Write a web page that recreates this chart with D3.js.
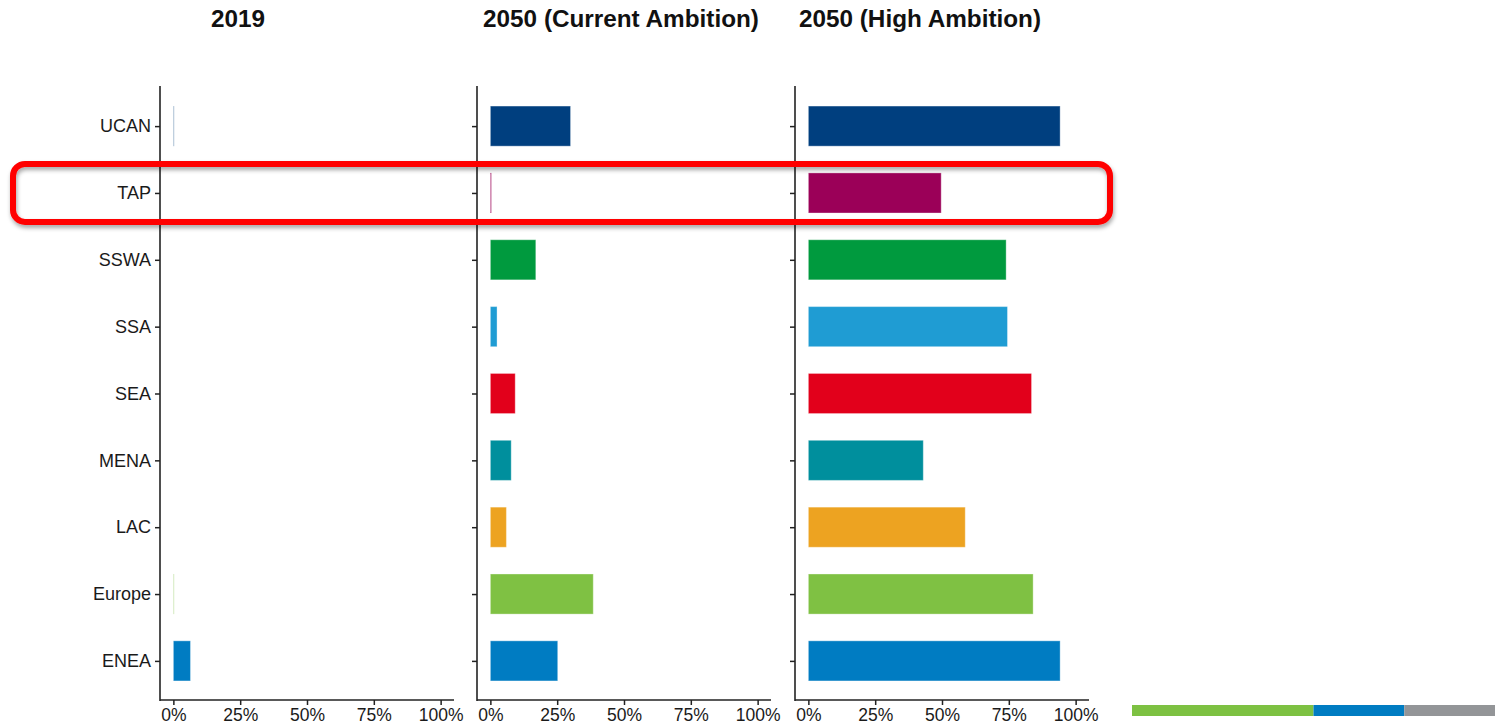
<!DOCTYPE html>
<html>
<head>
<meta charset="utf-8">
<script src="https://cdn.jsdelivr.net/npm/d3@7"></script>
<style>
  body { margin: 0; background: #fff; }
  svg { display: block; }
  .tick text { font-family: "Liberation Sans", Arial, sans-serif; }
</style>
</head>
<body>
<div id="chart"></div>
<script>
// regions, top to bottom
var regions = ["UCAN", "TAP", "SSWA", "SSA", "SEA", "MENA", "LAC", "Europe", "ENEA"];
var regionColors = ["#003f7f", "#9b0058", "#009a3e", "#1f9cd3", "#e2001b", "#008f9d", "#eda321", "#7fc143", "#007cc2"];

var panelTitles = ["2019", "2050 (Current Ambition)", "2050 (High Ambition)"];
var share2019 = [0.002, 0, 0, 0, 0, 0, 0, 0.001, 0.064];
var shareCurrent = [0.30, 0.004, 0.17, 0.025, 0.093, 0.078, 0.06, 0.385, 0.252];
var shareHigh = [0.942, 0.497, 0.74, 0.745, 0.835, 0.43, 0.587, 0.841, 0.942];
var panelValues = [share2019, shareCurrent, shareHigh];
var xTicks = [0, 0.25, 0.5, 0.75, 1];

// strip at the bottom right
var stripColors = ["#7dc142", "#007cc2", "#939598"];
var stripShares = [2, 1, 1];

var svgWidth = 1502, svgHeight = 727;
var plotTop = 85, plotBottom = 700;
var panelLeft = [160, 477, 795];
var titleCenter = [238, 621, 920];
var panelWidth = 294;

var svg = d3.select("#chart").append("svg")
    .attr("width", svgWidth)
    .attr("height", svgHeight);

var defs = svg.append("defs");
var shadow = defs.append("filter").attr("id", "shadow")
    .attr("x", "-5%").attr("y", "-30%").attr("width", "110%").attr("height", "160%");
shadow.append("feDropShadow")
    .attr("dx", 1).attr("dy", 3).attr("stdDeviation", 2)
    .attr("flood-color", "#000").attr("flood-opacity", 0.35);

// shared y scale (ggplot style: 0.6 expansion on discrete axis)
var y = d3.scalePoint()
    .domain(regions)
    .range([plotTop, plotBottom])
    .padding(0.6);
var barH = y.step() * 0.6;

panelValues.forEach(function (values, p) {
    var x0 = panelLeft[p];
    var x = d3.scaleLinear()
        .domain([-0.05, 1.05])
        .range([x0, x0 + panelWidth]);

    var g = svg.append("g");

    // title
    svg.append("text")
        .attr("x", titleCenter[p])
        .attr("y", 27)
        .attr("text-anchor", "middle")
        .attr("font-family", "Liberation Sans, Arial, sans-serif")
        .attr("font-weight", "bold")
        .attr("font-size", 24.3)
        .attr("fill", "#111")
        .text(panelTitles[p]);

    // bars
    g.selectAll("rect")
        .data(regions)
        .enter()
        .append("rect")
        .attr("x", x(0))
        .attr("y", function (d) { return y(d) - barH / 2 + 1; })
        .attr("width", function (d, i) { return Math.max(x(values[i]) - x(0), 0.8); })
        .attr("height", barH)
        .attr("fill", function (d, i) { return regionColors[i]; })
        .attr("fill-opacity", function (d, i) { return values[i] > 0.003 ? 1 : (values[i] > 0 ? 0.6 : 0); })
        .attr("stroke", "#fff")
        .attr("stroke-opacity", 0.35)
        .attr("stroke-width", 1);

    // y axis
    var yAxis = g.append("g")
        .attr("transform", "translate(" + x0 + ",1)")
        .call(d3.axisLeft(y).tickSize(5).tickPadding(4).tickFormat(p === 0 ? null : ""));
    yAxis.select(".domain").attr("stroke", "#222").attr("stroke-width", 1.6)
        .attr("d", "M0," + plotTop + "V" + plotBottom);
    yAxis.selectAll(".tick line").attr("stroke", "#222").attr("stroke-width", 1.5);
    yAxis.selectAll(".tick text").attr("font-size", 18).attr("fill", "#1a1a1a");

    // x axis
    var xAxis = g.append("g")
        .attr("transform", "translate(0," + plotBottom + ")")
        .call(d3.axisBottom(x).tickValues(xTicks).tickSize(5).tickPadding(4).tickFormat(d3.format(".0%")));
    xAxis.select(".domain").attr("stroke", "#222").attr("stroke-width", 1.6)
        .attr("d", "M" + x0 + ",0H" + (x0 + panelWidth));
    xAxis.selectAll(".tick line").attr("stroke", "#222").attr("stroke-width", 1.5);
    xAxis.selectAll(".tick text").attr("font-size", 17.5).attr("fill", "#1a1a1a");
});

// highlight box round TAP
svg.append("rect")
    .attr("x", 13)
    .attr("y", y("TAP") - 28)
    .attr("width", 1097)
    .attr("height", 58)
    .attr("rx", 12)
    .attr("fill", "none")
    .attr("stroke", "#ff0000")
    .attr("stroke-width", 6)
    .attr("filter", "url(#shadow)");

// bottom colour strip
var stripX = d3.scaleLinear()
    .domain([0, d3.sum(stripShares)])
    .range([1132, 1495]);
var cum = 0;
stripShares.forEach(function (s, i) {
    svg.append("rect")
        .attr("x", stripX(cum))
        .attr("y", 705)
        .attr("width", stripX(cum + s) - stripX(cum))
        .attr("height", 11)
        .attr("fill", stripColors[i]);
    cum += s;
});
</script>
</body>
</html>
